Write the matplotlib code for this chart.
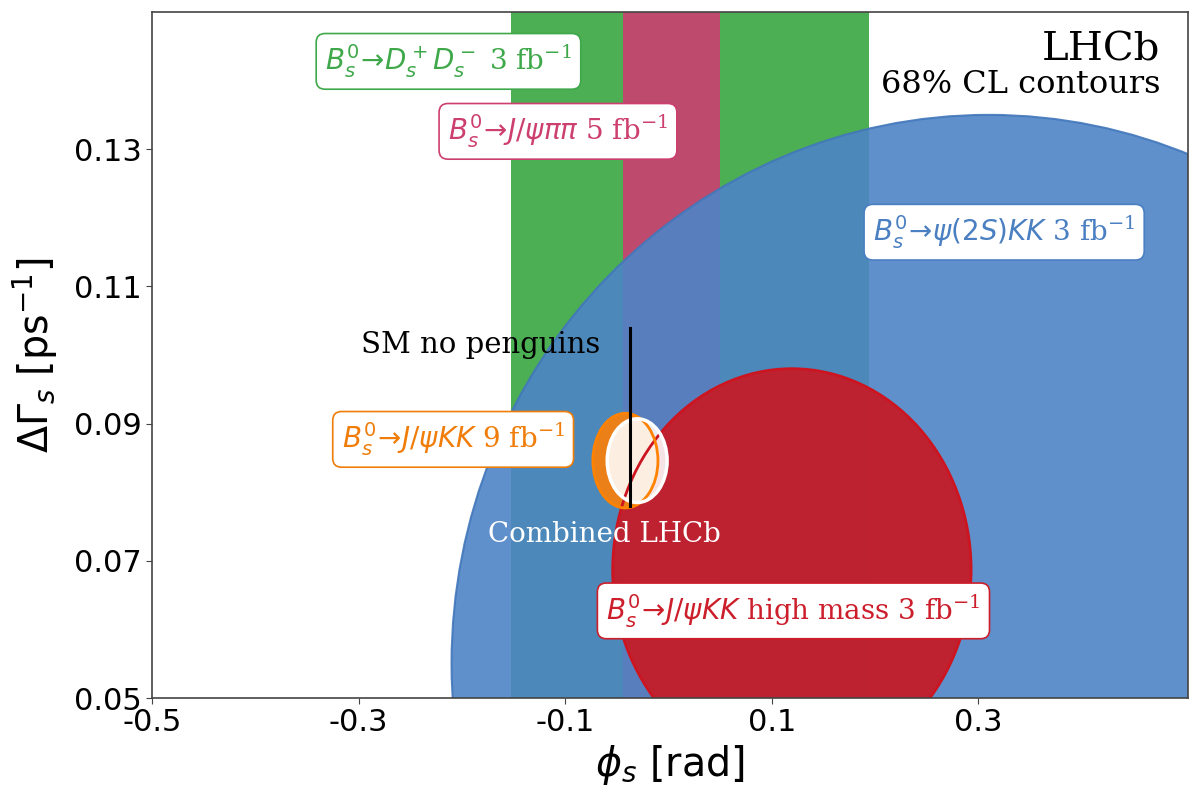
import numpy as np
import matplotlib.pyplot as plt
from matplotlib.patches import Ellipse

plt.rcParams['mathtext.fontset'] = 'dejavusans'
plt.rcParams['axes.unicode_minus'] = False

# bands (phi_s ranges), full height
band_names = ['DsDs', 'Jpsipipi']
band_lo = [-0.152, -0.044]
band_hi = [0.194, 0.050]

# 68% CL ellipses: centre phi_s, centre dGamma_s, half-width, half-height
ell_names = ['psi2SKK', 'JpsiKK_high', 'JpsiKK', 'combined']
ell_x = [0.31, 0.1195, -0.0417, -0.0303]
ell_y = [0.055, 0.0687, 0.0846, 0.0846]
ell_w = [0.52, 0.1735, 0.0315, 0.029]
ell_h = [0.080, 0.0293, 0.0069, 0.0061]

# SM prediction
sm_phi = -0.0368
sm_dg = 0.091
sm_dg_err = 0.013

xticks = [-0.5, -0.3, -0.1, 0.1, 0.3]
yticks = [0.05, 0.07, 0.09, 0.11, 0.13]

green = '#4caf54'
pink = '#be4a6e'
blue = '#4d84c6'
red = '#c21f2c'
orange = '#f08214'

fig = plt.figure(figsize=(12, 7.98), dpi=100)
ax = fig.add_axes([0.1267, 0.1253, 0.8633, 0.8597])

ax.axvspan(band_lo[0], band_hi[0], color=green, lw=0, zorder=1)
ax.axvspan(band_lo[1], band_hi[1], color=pink, lw=0, zorder=1.1)

ax.add_patch(Ellipse((ell_x[0], ell_y[0]), 2 * ell_w[0], 2 * ell_h[0],
                     facecolor=blue, edgecolor='#4277bb', lw=1.5, alpha=0.9, zorder=2))
ax.add_patch(Ellipse((ell_x[1], ell_y[1]), 2 * ell_w[1], 2 * ell_h[1],
                     facecolor=red, edgecolor='none', alpha=0.97, zorder=3))
ax.add_patch(Ellipse((ell_x[2], ell_y[2]), 2 * ell_w[2], 2 * ell_h[2],
                     facecolor='#ec8018', edgecolor='none', zorder=4))
ax.add_patch(Ellipse((ell_x[3], ell_y[3]), 2 * ell_w[3], 2 * ell_h[3],
                     facecolor='white', edgecolor='none', alpha=0.88, zorder=5))
# contour outlines on top of the combined fill
ax.add_patch(Ellipse((ell_x[1], ell_y[1]), 2 * ell_w[1], 2 * ell_h[1],
                     fill=False, edgecolor='#cc1520', lw=2, zorder=5.5))
ax.add_patch(Ellipse((ell_x[2], ell_y[2]), 2 * ell_w[2], 2 * ell_h[2],
                     fill=False, edgecolor='#ff8200', lw=2, zorder=5.6))
ax.add_patch(Ellipse((ell_x[3], ell_y[3]), 2 * ell_w[3], 2 * ell_h[3],
                     fill=False, edgecolor='white', lw=2.5, zorder=5.7))

ax.plot([sm_phi, sm_phi], [sm_dg - sm_dg_err, sm_dg + sm_dg_err], color='black', lw=2.2, zorder=6)

serif = ['DejaVu Serif']
ax.text(-0.182, 0.1015, 'SM no penguins', family=serif, fontsize=21, ha='center', va='center', zorder=7)
ax.text(-0.062, 0.0738, 'Combined LHCb', family=serif, fontsize=20, color='white', ha='center', va='center', zorder=7)

ax.text(0.476, 0.1445, 'LHCb', family=serif, fontsize=29, ha='right', va='center', zorder=7)
ax.text(0.476, 0.1395, '68% CL contours', family=serif, fontsize=23, ha='right', va='center', zorder=7)


def label(x, y, s, c):
    ax.text(x, y, s, family=serif, fontsize=20, color=c, ha='center', va='center', zorder=10,
            bbox=dict(boxstyle='round,pad=0.32', fc='white', ec=c, lw=1.2))


label(-0.213, 0.1428, r'$B_s^0\!\to\! D_s^+D_s^-$ 3 fb$^{\mathregular{-1}}$', '#3fa84a')
label(-0.107, 0.1326, r'$B_s^0\!\to\! J/\psi\pi\pi$ 5 fb$^{\mathregular{-1}}$', '#cc3f6e')
label(0.325, 0.1179, r'$B_s^0\!\to\!\psi(2S)KK$ 3 fb$^{\mathregular{-1}}$', '#4a7fc1')
label(-0.2085, 0.0877, r'$B_s^0\!\to\! J/\psi KK$ 9 fb$^{\mathregular{-1}}$', '#f07d0a')
label(0.121, 0.0627, r'$B_s^0\!\to\! J/\psi KK$ high mass 3 fb$^{\mathregular{-1}}$', '#cc1e2b')

ax.set_xlim(-0.5, 0.503)
ax.set_ylim(0.05, 0.15)
ax.set_xticks(xticks)
ax.set_xticklabels([f'{t:.1f}' for t in xticks])
ax.set_yticks(yticks)
ax.set_yticklabels([f'{t:.2f}' for t in yticks])
ax.tick_params(labelsize=22, length=4, color='#444444')
for sp in ax.spines.values():
    sp.set_color('#444444')
    sp.set_linewidth(1.2)
    sp.set_zorder(12)

ax.set_xlabel(r'$\phi_s$ [rad]', fontsize=28.5, labelpad=4)
ax.set_ylabel(r'$\Delta\Gamma_s$ [ps$^{-1}$]', fontsize=28.5, labelpad=10)

fig.savefig('out.png', dpi=100)
